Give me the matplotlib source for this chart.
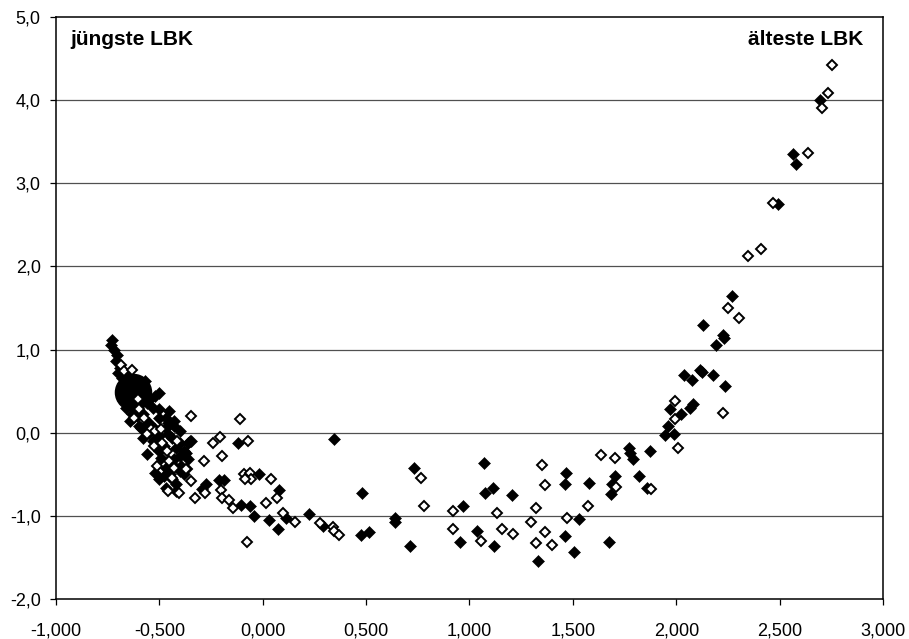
import matplotlib
matplotlib.use("Agg")
import matplotlib.pyplot as plt
from matplotlib.ticker import FixedLocator, FixedFormatter

plt.rcParams['font.family'] = ['Liberation Sans', 'DejaVu Sans']

# filled diamonds (x, y)
filled_x = [-0.727, -0.735, -0.719, -0.703, -0.711, -0.69, -0.66, -0.68,
            -0.60, -0.58, -0.50, -0.52, -0.56, -0.61, -0.455, -0.50, -0.43, -0.47, -0.55, -0.60,
            -0.64, -0.59, -0.52, -0.47, -0.43, -0.50, -0.44, -0.53, -0.48, -0.40, -0.56, -0.40,
            -0.38, -0.47, -0.43, -0.50, -0.47, -0.45, -0.42, -0.49, -0.36, -0.35, -0.372, -0.396,
            -0.65, -0.57, -0.545, -0.53, -0.58, -0.50, -0.46, -0.40, -0.55, -0.58, -0.46, -0.42,
            -0.50, -0.44, -0.40, -0.52, -0.48, -0.38, -0.42, -0.44, -0.36, -0.57, -0.63, -0.66,
            -0.70, -0.68, -0.61,
            -0.348, -0.122, -0.275, -0.292, -0.211, -0.186, -0.106, -0.017, -0.061, -0.040, 0.028,
            0.075, 0.080, 0.112, 0.225, 0.290, 0.346, 0.475, 0.513, 0.478, 0.640, 0.640, 0.713,
            0.730, 0.968, 0.956, 1.037, 1.068, 1.074, 1.116, 1.120, 1.207, 1.329, 1.465, 1.463,
            1.463, 1.507, 1.528, 1.578, 1.673, 1.683, 1.689, 1.702, 1.771, 1.778, 1.791, 1.820,
            1.860, 1.872,
            1.948, 1.990, 1.961, 1.972, 2.025, 2.065, 2.081, 2.036, 2.077, 2.117, 2.125, 2.178,
            2.235, 2.130, 2.193, 2.224, 2.233, 2.270, 2.493, 2.563, 2.579, 2.695]
filled_y = [1.12, 1.06, 1.00, 0.94, 0.86, 0.78, 0.70, 0.66,
            0.60, 0.55, 0.48, 0.44, 0.36, 0.30, 0.26, 0.28, 0.14, 0.18, 0.12, 0.08,
            0.14, 0.06, 0.04, 0.06, 0.08, -0.04, -0.06, -0.10, -0.16, -0.12, -0.26, -0.28,
            -0.22, -0.42, -0.32, -0.56, -0.66, -0.50, -0.62, -0.30, -0.12, -0.10, -0.24, -0.40,
            0.62, 0.62, 0.40, 0.30, 0.22, 0.18, 0.12, 0.02, 0.00, -0.06, -0.02, -0.18,
            -0.22, -0.38, -0.46, -0.48, -0.52, -0.50, -0.70, -0.56, -0.32, 0.08, 0.22, 0.30,
            0.72, 0.56, 0.20,
            -0.10, -0.12, -0.62, -0.68, -0.57, -0.57, -0.87, -0.50, -0.88, -1.00, -1.05,
            -1.16, -0.69, -1.02, -0.98, -1.12, -0.07, -1.23, -1.19, -0.72, -1.02, -1.07, -1.36,
            -0.42, -0.88, -1.32, -1.18, -0.36, -0.73, -0.66, -1.36, -0.75, -1.54, -0.49, -0.62,
            -1.24, -1.44, -1.04, -0.61, -1.32, -0.74, -0.62, -0.52, -0.18, -0.24, -0.32, -0.52,
            -0.66, -0.22,
            -0.03, -0.02, 0.08, 0.28, 0.22, 0.30, 0.34, 0.70, 0.64, 0.76, 0.73, 0.70,
            0.56, 1.30, 1.06, 1.18, 1.14, 1.65, 2.75, 3.35, 3.23, 4.00]

# open diamonds (x, y)
open_x = [-0.687, -0.671, -0.631, -0.603, -0.598, -0.574, -0.622, -0.541, -0.52, -0.56,
          -0.493, -0.525, -0.485, -0.461, -0.413, -0.453, -0.429, -0.364, -0.437, -0.404,
          -0.51, -0.46,
          -0.348, -0.110, -0.240, -0.207, -0.070, -0.283, -0.195, -0.372, -0.348, -0.278,
          -0.327, -0.203, -0.195, -0.162, -0.143, -0.093, -0.061, -0.057, -0.086, 0.040,
          0.067, 0.015, 0.096, 0.156, 0.277, 0.338, 0.343, 0.367, -0.077, 0.766, 0.779,
          0.922, 0.919, 1.055, 1.133, 1.157, 1.210, 1.297, 1.323, 1.320, 1.353, 1.363,
          1.363, 1.397, 1.471, 1.573, 1.636, 1.704, 1.710, 1.876,
          1.996, 1.996, 2.009, 2.227, 2.251, 2.304, 2.348, 2.412, 2.469, 2.638, 2.703,
          2.735, 2.751]
open_y = [0.82, 0.74, 0.76, 0.40, 0.28, 0.18, 0.18, 0.04, 0.02, -0.02,
          0.04, -0.16, -0.12, -0.22, -0.10, -0.34, -0.42, -0.44, -0.54, -0.72,
          -0.40, -0.70,
          0.20, 0.16, -0.12, -0.05, -0.10, -0.34, -0.28, -0.44, -0.58, -0.72,
          -0.79, -0.69, -0.78, -0.81, -0.91, -0.50, -0.49, -0.56, -0.56, -0.56,
          -0.78, -0.85, -0.96, -1.07, -1.08, -1.14, -1.18, -1.23, -1.31, -0.54, -0.88,
          -0.94, -1.16, -1.30, -0.97, -1.16, -1.22, -1.07, -0.90, -1.33, -0.39, -0.63,
          -1.20, -1.35, -1.03, -0.88, -0.27, -0.31, -0.65, -0.68,
          0.38, 0.16, -0.18, 0.24, 1.50, 1.38, 2.12, 2.21, 2.76, 3.36, 3.91,
          4.08, 4.42]

# large highlighted point
big_x = [-0.627]
big_y = [0.49]

xticks = [-1.0, -0.5, 0.0, 0.5, 1.0, 1.5, 2.0, 2.5, 3.0]
xticklabels = ["-1,000", "-0,500", "0,000", "0,500", "1,000", "1,500", "2,000", "2,500", "3,000"]
yticks = [-2, -1, 0, 1, 2, 3, 4, 5]
yticklabels = ["-2,0", "-1,0", "0,0", "1,0", "2,0", "3,0", "4,0", "5,0"]

label_left = "jüngste LBK"
label_right = "älteste LBK"

fig = plt.figure(figsize=(9.09, 6.39), dpi=100)
ax = fig.add_axes([0.0616, 0.0626, 0.9098, 0.9108])

ax.set_xlim(-1.0, 3.0)
ax.set_ylim(-2.0, 5.0)

for yv in yticks[1:-1]:
    ax.axhline(yv, color='#505050', lw=0.9, zorder=1)

ax.plot(filled_x, filled_y, linestyle='none', marker='D', markersize=6.0,
        markerfacecolor='black', markeredgecolor='black', markeredgewidth=0.4, zorder=3)
ax.plot(open_x, open_y, linestyle='none', marker='D', markersize=5.2,
        markerfacecolor='white', markeredgecolor='black', markeredgewidth=1.4, zorder=4)
ax.plot(big_x, big_y, linestyle='none', marker='o', markersize=26,
        markerfacecolor='black', markeredgecolor='black', zorder=3)

ax.xaxis.set_major_locator(FixedLocator(xticks))
ax.xaxis.set_major_formatter(FixedFormatter(xticklabels))
ax.yaxis.set_major_locator(FixedLocator(yticks))
ax.yaxis.set_major_formatter(FixedFormatter(yticklabels))

ax.tick_params(axis='x', direction='out', length=4, width=0.9, pad=13, labelsize=13, colors='black')
ax.tick_params(axis='y', direction='out', length=4, width=0.9, pad=7, labelsize=13, colors='black')

for s in ax.spines.values():
    s.set_color('black')
    s.set_linewidth(1.1)

ax.text(0.017, 0.952, label_left, transform=ax.transAxes, fontsize=15,
        fontweight='bold', ha='left', va='baseline')
ax.text(0.976, 0.952, label_right, transform=ax.transAxes, fontsize=15,
        fontweight='bold', ha='right', va='baseline')

fig.savefig("out.png", dpi=100, facecolor='white')
